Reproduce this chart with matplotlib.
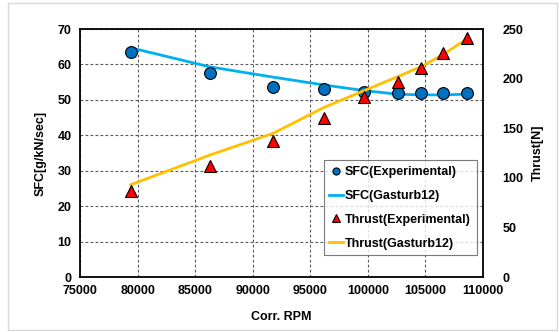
import matplotlib
matplotlib.use("Agg")
import matplotlib.pyplot as plt
from matplotlib.patches import Rectangle

rpm = [79400, 86300, 91800, 96200, 99700, 102600, 104600, 106500, 108600]
sfc_exp = [63.4, 57.6, 53.6, 53.0, 52.2, 51.9, 51.9, 51.9, 51.9]
sfc_gas = [64.7, 59.3, 56.4, 54.2, 52.6, 51.6, 51.4, 51.4, 51.6]
thrust_exp = [87, 112, 137, 160, 181, 197, 211, 226, 241]
thrust_gas = [93, 123, 145, 171, 188, 202, 212, 224, 240]

xticks = [75000, 80000, 85000, 90000, 95000, 100000, 105000, 110000]
yticks_l = [0, 10, 20, 30, 40, 50, 60, 70]
yticks_r = [0, 50, 100, 150, 200, 250]

plt.rcParams['font.family'] = ['Liberation Sans', 'DejaVu Sans']
plt.rcParams['font.weight'] = 'bold'

W, H = 559, 332
fig = plt.figure(figsize=(W/100, H/100), dpi=100)
ax = fig.add_axes([80/W, 1-277/H, 403/W, 248/H])
fig.patches.append(Rectangle((8/W, 2/H), 549/W, 327/H, transform=fig.transFigure,
                             fill=False, edgecolor='#d9d9d9', linewidth=1))

ax.plot(rpm, sfc_gas, color='#00B0F0', lw=2, label='SFC(Gasturb12)', zorder=2)
ax.plot(rpm, sfc_exp, 'o', ms=8.5, mfc='#0070C0', mec='black', mew=0.8,
        label='SFC(Experimental)', zorder=3)
ax.set_xlim(75000, 110000)
ax.set_ylim(0, 70)
ax.set_xticks(xticks)
ax.set_yticks(yticks_l)
ax.grid(True, linestyle=(0, (2.5, 2)), color='#595959', lw=0.8)
for s in ax.spines.values():
    s.set_linewidth(1.3)
    s.set_color('black')
ax.tick_params(length=0, labelsize=9, pad=6)
ax.set_xlabel('Corr. RPM', fontsize=9, fontweight='bold', labelpad=10)
ax.set_ylabel('SFC[g/kN/sec]', fontsize=9, fontweight='bold', labelpad=8)

ax2 = ax.twinx()
ax2.plot(rpm, thrust_gas, color='#FFC000', lw=2, label='Thrust(Gasturb12)', zorder=2)
ax2.plot(rpm, thrust_exp, '^', ms=9, mfc='#FF0000', mec='black', mew=0.8,
         label='Thrust(Experimental)', zorder=3)
ax2.set_ylim(0, 250)
ax2.set_yticks(yticks_r)
ax2.tick_params(length=0, labelsize=9, pad=14)
for s in ax2.spines.values():
    s.set_visible(False)
ax2.set_ylabel('Thrust[N]', fontsize=9, fontweight='bold', labelpad=6)

h1, l1 = ax.get_legend_handles_labels()
h2, l2 = ax2.get_legend_handles_labels()
handles = [h1[1], h1[0], h2[1], h2[0]]
labels = [l1[1], l1[0], l2[1], l2[0]]
leg = ax2.legend(handles, labels, loc='upper left', bbox_to_anchor=(0.605, 0.47),
                 fontsize=9, frameon=True, fancybox=False, edgecolor='#595959',
                 markerscale=0.6, handlelength=1.1, handletextpad=0.15,
                 labelspacing=0.95, borderpad=0.45, borderaxespad=0)
leg.get_frame().set_linewidth(0.8)

fig.savefig('out.png', dpi=100)
